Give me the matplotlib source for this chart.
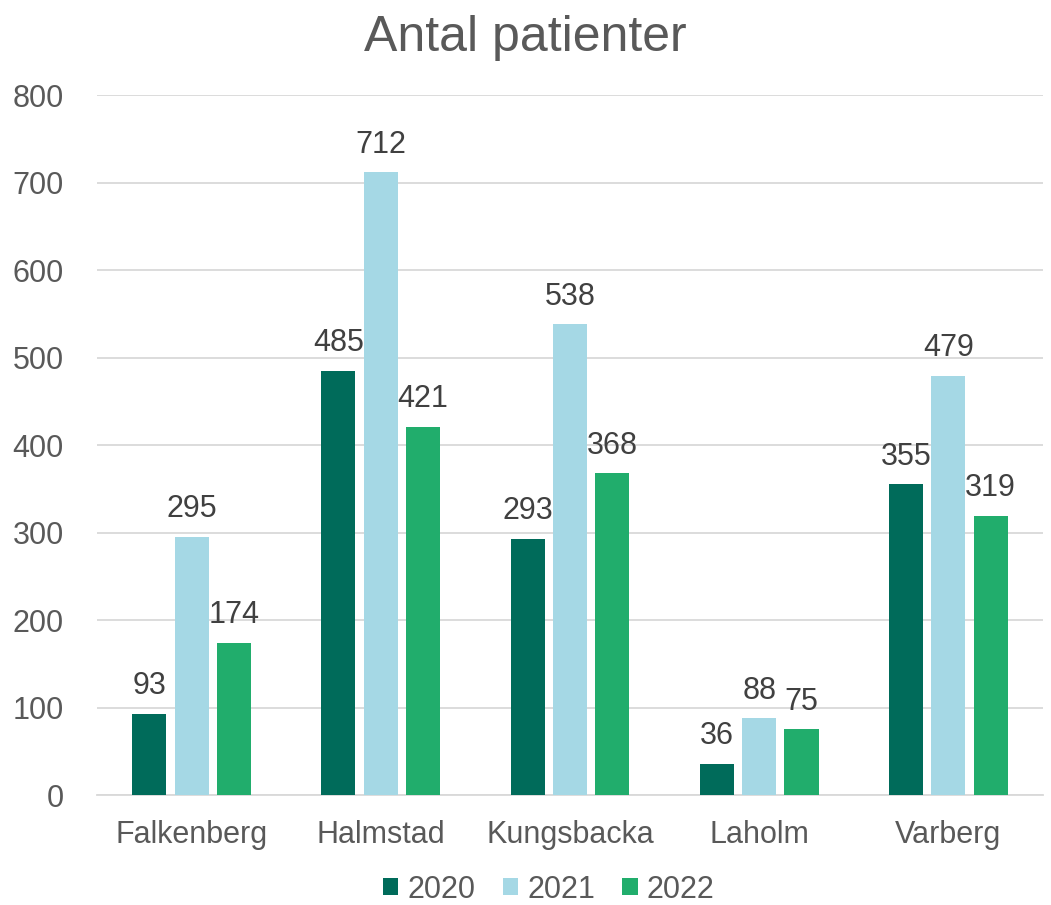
import matplotlib.pyplot as plt
import numpy as np

plt.rcParams['font.family'] = ['Liberation Sans', 'DejaVu Sans']

# data
orter = ['Falkenberg', 'Halmstad', 'Kungsbacka', 'Laholm', 'Varberg']
ar = ['2020', '2021', '2022']
v2020 = [93, 485, 293, 36, 355]
v2021 = [295, 712, 538, 88, 479]
v2022 = [174, 421, 368, 75, 319]
farger = ['#006B5A', '#A5D8E5', '#21AD6C']

fig = plt.figure(figsize=(10.51, 9.05), dpi=100)
ax = fig.add_axes([0.0923, 0.1215, 0.9, 0.7735])

x = np.arange(len(orter))
bredd = 0.18
steg = 0.224
for i, (serie, namn) in enumerate(zip([v2020, v2021, v2022], ar)):
    staplar = ax.bar(x + (i - 1) * steg, serie, bredd, color=farger[i], label=namn, zorder=3)
    ax.bar_label(staplar, padding=9, fontsize=22, color='#404040')

ax.set_xlim(-0.5, 4.5)
ax.set_ylim(0, 800)
ax.set_yticks(range(0, 801, 100))
ax.set_xticks(x)
ax.set_xticklabels(orter)
ax.tick_params(axis='both', length=0, labelsize=22, colors='#595959')
ax.tick_params(axis='x', pad=18)
ax.tick_params(axis='y', pad=24)
ax.grid(axis='y', color='#D9D9D9', linewidth=1.3, zorder=0)
for s in ['top', 'right', 'left']:
    ax.spines[s].set_visible(False)
ax.spines['bottom'].set_color('#D9D9D9')
ax.spines['bottom'].set_linewidth(1.3)

fig.text(0.5, 0.958, 'Antal patienter', ha='center', va='center', fontsize=36, color='#595959')
fig.legend(loc='center', bbox_to_anchor=(0.522, 0.017), ncol=3, frameon=False, fontsize=22,
           handlelength=0.5, handleheight=0.5, handletextpad=0.3, columnspacing=0.9,
           labelcolor='#595959')

fig.savefig('out.png', dpi=100)
